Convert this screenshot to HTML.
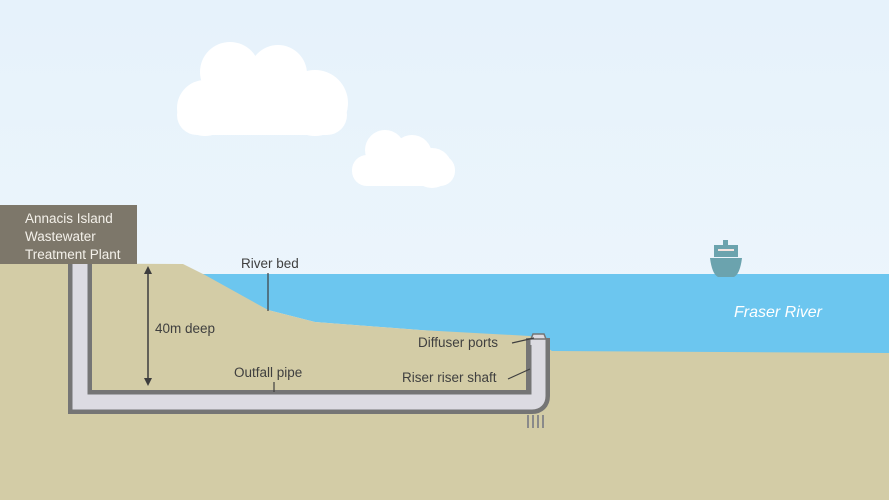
<!DOCTYPE html>
<html><head><meta charset="utf-8"><style>
html,body{margin:0;padding:0;width:889px;height:500px;overflow:hidden;background:#eaf4fb}
svg text{font-family:"Liberation Sans",sans-serif}
</style></head><body>
<svg width="889" height="500" viewBox="0 0 889 500" xmlns="http://www.w3.org/2000/svg">
<defs><linearGradient id="sky" x1="0" y1="0" x2="0" y2="1"><stop offset="0" stop-color="#e6f2fb"/><stop offset="1" stop-color="#f0f7fc"/></linearGradient></defs>
<rect width="889" height="500" fill="url(#sky)"/>
<g fill="#ffffff">
<circle cx="230" cy="72" r="30"/><circle cx="278" cy="74" r="29"/><circle cx="315" cy="103" r="33"/><circle cx="205" cy="108" r="28"/>
<circle cx="255" cy="95" r="30"/>
<rect x="177" y="95" width="170" height="40" rx="20"/>
<circle cx="385" cy="150" r="20"/><circle cx="412" cy="155" r="20"/><circle cx="432" cy="168" r="20"/>
<rect x="352" y="155" width="103" height="31" rx="15"/>
</g>
<polygon points="200,274 889,274 889,354 552,352 530,338 420,330 315,322 268,310" fill="#6cc6ef"/>
<polygon points="0,263 183,264 205,275 268,310 315,322 420,330 530,336 552,351 889,353 889,500 0,500" fill="#d3cca6"/>
<g fill="#6ba3ae">
<rect x="723" y="240" width="5" height="6"/>
<rect x="714" y="245" width="24" height="12"/>
<path d="M710 258 H742 Q740 274 734 277 H718 Q712 274 710 258 Z"/>
</g>
<rect x="718" y="249" width="16" height="2" fill="#f4e4e0"/>
<path d="M80 263 V402 H532 Q538 402 538 396 V338" fill="none" stroke="#757575" stroke-width="24"/>
<path d="M80 263 V402 H532 Q538 402 538 396 V338" fill="none" stroke="#dcdbe2" stroke-width="15"/>
<path d="M89 263 V393 H530 V345" fill="none" stroke="#757575" stroke-width="3"/>
<path d="M533 334 H544 L546 339 H531 Z" fill="#dcdbe2" stroke="#757575" stroke-width="1.5"/>
<g stroke="#8a8a8a" stroke-width="2"><line x1="528" y1="415" x2="528" y2="428"/><line x1="533" y1="415" x2="533" y2="428"/><line x1="538" y1="415" x2="538" y2="428"/><line x1="543" y1="415" x2="543" y2="428"/></g>
<rect x="0" y="205" width="137" height="59" fill="#7d776a"/>
<g fill="#f4f1ea" font-size="13.5"><text x="25" y="223">Annacis Island</text><text x="25" y="241">Wastewater</text><text x="25" y="259">Treatment Plant</text></g>
<line x1="148" y1="272" x2="148" y2="380" stroke="#3d3d3d" stroke-width="1.5"/>
<polygon points="144,274 152,274 148,266" fill="#3d3d3d"/>
<polygon points="144,378 152,378 148,386" fill="#3d3d3d"/>
<g fill="#3f3f3f" font-size="13.5">
<text x="155" y="333">40m deep</text>
<text x="241" y="268">River bed</text>
<text x="234" y="377">Outfall pipe</text>
<text x="418" y="347">Diffuser ports</text>
<text x="402" y="382">Riser riser shaft</text>
</g>
<g stroke="#3f3f3f" stroke-width="1.2">
<line x1="268" y1="273" x2="268" y2="311"/>
<line x1="274" y1="382" x2="274" y2="392"/>
<line x1="512" y1="343" x2="534" y2="338"/>
<line x1="508" y1="379" x2="530" y2="369"/>
</g>
<text x="734" y="317" fill="#ffffff" font-size="16" font-style="italic">Fraser River</text>
</svg>
</body></html>
